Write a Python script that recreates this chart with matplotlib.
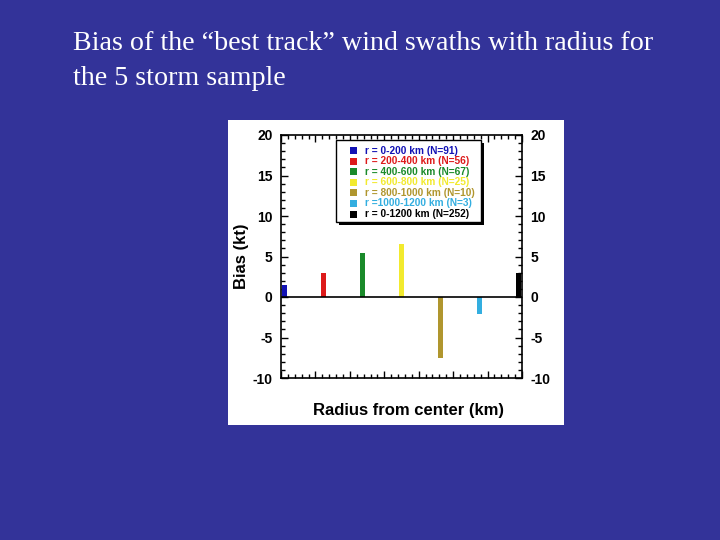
import numpy as np
import matplotlib
matplotlib.use("Agg")
import matplotlib.pyplot as plt
from matplotlib.patches import Rectangle
from matplotlib.ticker import MultipleLocator

plt.rcParams["axes.unicode_minus"] = False

# data
bins = ["r = 0-200 km (N=91)", "r = 200-400 km (N=56)", "r = 400-600 km (N=67)",
        "r = 600-800 km (N=25)", "r = 800-1000 km (N=10)", "r =1000-1200 km (N=3)",
        "r = 0-1200 km (N=252)"]
bias = [1.5, 3.0, 5.4, 6.6, -7.5, -2.1, 3.0]
colores = ["#1212b4", "#dd1a1a", "#1a8a2a", "#f2ea2e", "#b0962e", "#33aee0", "#000000"]
titulo = ["Bias of the \u201cbest track\u201d wind swaths with radius for",
          "the 5 storm sample"]

fondo = "#333399"
W, H = 720, 540


def px(x, y):
    # pixel position (from top-left) -> figure fraction
    return x / W, 1 - y / H


fig = plt.figure(figsize=(7.2, 5.4), dpi=100)
fig.patch.set_facecolor(fondo)

for i, linea in enumerate(titulo):
    fig.text(*px(73, 50 + 35 * i), linea, color="white",
             family="Liberation Serif", fontsize=20.2, va="baseline")

# white panel behind the chart
fig.patches.append(Rectangle(px(228, 425), 336 / W, 305 / H,
                             transform=fig.transFigure, facecolor="white",
                             edgecolor="none", zorder=-1))

ax = fig.add_axes([*px(281, 378), 241 / W, 243 / H])
ax.set_zorder(2)
ax.set_facecolor("white")

pos = np.linspace(20, 1380, len(bias))
ax.bar(pos, bias, width=32, color=colores, edgecolor="none", zorder=3)
ax.axhline(0, color="black", lw=1.2, zorder=4)

ax.set_xlim(0, 1400)
ax.set_ylim(-10, 20)
ax.xaxis.set_major_locator(MultipleLocator(200))
ax.xaxis.set_minor_locator(MultipleLocator(40))
ax.yaxis.set_major_locator(MultipleLocator(5))
ax.yaxis.set_minor_locator(MultipleLocator(1))
ax.tick_params(which="both", direction="in", top=True, right=True,
               labelbottom=False, labelright=True, width=1)
ax.tick_params(which="major", length=5)
ax.tick_params(which="minor", length=3)
for lab in ax.get_yticklabels():
    lab.set_family("Liberation Sans")
    lab.set_weight("bold")
    lab.set_fontsize(10)
ax.tick_params(axis="y", pad=6)
for s in ax.spines.values():
    s.set_linewidth(1.2)

ax.set_ylabel("Bias (kt)", family="Liberation Sans", weight="bold", fontsize=12, labelpad=3)
ax.set_xlabel("Radius from center (km)", family="Liberation Sans", weight="bold",
              fontsize=12, labelpad=18)
ax.xaxis.label.set_x(0.527)

# legend box with drop shadow, drawn by hand
lx0, ly0, lx1, ly1 = 336, 140, 481, 222
fig.patches.append(Rectangle(px(lx0 + 3, ly1 + 3), (lx1 - lx0) / W, (ly1 - ly0) / H,
                             transform=fig.transFigure, facecolor="black",
                             edgecolor="none", zorder=5))
fig.patches.append(Rectangle(px(lx0, ly1), (lx1 - lx0) / W, (ly1 - ly0) / H,
                             transform=fig.transFigure, facecolor="white",
                             edgecolor="black", lw=1, zorder=6))
for i, (txt, c) in enumerate(zip(bins, colores)):
    yc = 150.5 + 10.6 * i
    fig.patches.append(Rectangle(px(350, yc + 3.5), 7 / W, 7 / H,
                                 transform=fig.transFigure, facecolor=c,
                                 edgecolor="none", zorder=7))
    fig.text(*px(365, yc), txt, color=c, family="Liberation Sans", weight="bold",
             fontsize=7.3, va="center", ha="left", zorder=7)

fig.savefig("out.png", dpi=100, facecolor=fondo)
